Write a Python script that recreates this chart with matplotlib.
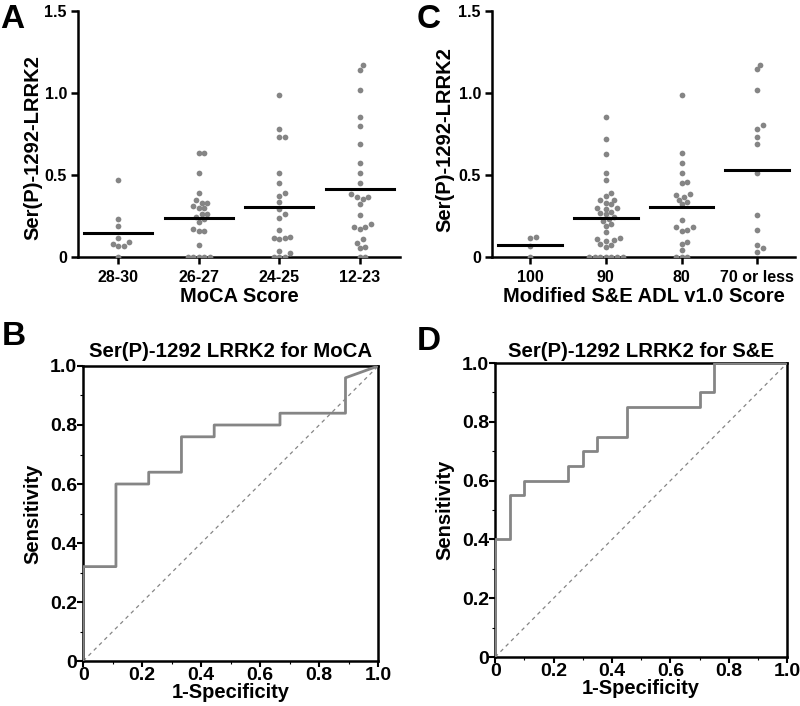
import numpy as np
import matplotlib
matplotlib.use("Agg")
import matplotlib.pyplot as plt
from matplotlib.ticker import MultipleLocator

plt.rcParams['font.family'] = ['Liberation Sans', 'DejaVu Sans']
plt.rcParams['font.weight'] = 'bold'

# panel A: MoCA groups
moca_groups = ['28-30', '26-27', '24-25', '12-23']
moca_vals = [
    [0.47, 0.23, 0.19, 0.115, 0.09, 0.07, 0.07, 0.08, 0.0],
    [0.632, 0.632, 0.51, 0.388, 0.35, 0.327, 0.327, 0.31, 0.297, 0.297, 0.262, 0.262,
     0.242, 0.23, 0.213, 0.169, 0.16, 0.16, 0.075, 0.0, 0.0, 0.0, 0.0, 0.0],
    [0.99, 0.778, 0.73, 0.73, 0.51, 0.453, 0.392, 0.372, 0.335, 0.295, 0.262, 0.238,
     0.165, 0.12, 0.115, 0.115, 0.11, 0.038, 0.026, 0.0, 0.0, 0.0],
    [1.173, 1.14, 1.015, 0.852, 0.80, 0.689, 0.571, 0.51, 0.449, 0.384, 0.364, 0.364,
     0.352, 0.323, 0.256, 0.201, 0.185, 0.185, 0.173, 0.108, 0.083, 0.063, 0.053, 0.0, 0.0],
]
moca_means = [0.148, 0.24, 0.307, 0.412]

# panel C: S&E groups
se_groups = ['100', '90', '80', '70 or less']
se_vals = [
    [0.12, 0.115, 0.065, 0.0],
    [0.855, 0.72, 0.63, 0.51, 0.47, 0.39, 0.37, 0.35, 0.35, 0.33, 0.32, 0.30, 0.30, 0.295,
     0.275, 0.27, 0.26, 0.245, 0.23, 0.22, 0.20, 0.19, 0.15, 0.115, 0.11, 0.105, 0.10,
     0.08, 0.075, 0.06, 0.0, 0.0, 0.0, 0.0, 0.0, 0.0, 0.0],
    [0.99, 0.635, 0.575, 0.515, 0.455, 0.45, 0.385, 0.38, 0.365, 0.35, 0.335, 0.32, 0.225,
     0.185, 0.18, 0.165, 0.16, 0.09, 0.08, 0.04, 0.0, 0.0, 0.0],
    [1.173, 1.144, 1.018, 0.803, 0.778, 0.734, 0.689, 0.514, 0.258, 0.165, 0.073, 0.053, 0.029],
]
se_means = [0.073, 0.236, 0.303, 0.53]

# ROC curves
roc_moca_fpr = [0, 0, 0.111, 0.111, 0.222, 0.222, 0.333, 0.333, 0.444, 0.444, 0.667, 0.667, 0.889, 0.889, 1.0]
roc_moca_tpr = [0, 0.32, 0.32, 0.60, 0.60, 0.64, 0.64, 0.76, 0.76, 0.80, 0.80, 0.84, 0.84, 0.96, 1.0]
roc_se_fpr = [0, 0, 0.05, 0.05, 0.10, 0.10, 0.25, 0.25, 0.30, 0.30, 0.35, 0.35, 0.45, 0.45, 0.70, 0.70, 0.75, 0.75, 1.0]
roc_se_tpr = [0, 0.40, 0.40, 0.55, 0.55, 0.60, 0.60, 0.65, 0.65, 0.70, 0.70, 0.75, 0.75, 0.85, 0.85, 0.90, 0.90, 1.0, 1.0]

gray = '#858585'


def swarm(vals, ypx, xpx, d=5.6):
    # simple beeswarm: offsets in x data units
    order = np.argsort(vals)
    placed = []
    offs = np.zeros(len(vals))
    for i in order:
        y = vals[i] * ypx
        for k in range(0, 40):
            cands = [0.0] if k == 0 else [k * d / 2, -k * d / 2]
            ok = None
            for c in cands:
                if all((c - px) ** 2 + (y - py) ** 2 >= (d * 0.98) ** 2 for px, py in placed):
                    ok = c
                    break
            if ok is not None:
                placed.append((ok, y))
                offs[i] = ok / xpx
                break
    return offs


def scatter_panel(ax, groups, vals, means, xpx, xlabel, lab_xy):
    for i, v in enumerate(vals):
        v = np.array(v)
        off = swarm(v, 164, xpx)
        ax.scatter(i + off, v, s=17, color=gray, zorder=3, linewidths=0)
        ax.plot([i - 0.42, i + 0.42], [means[i], means[i]], color='black', lw=2.2, zorder=4)
    ax.set_xlim(-0.5, 3.5)
    ax.set_ylim(0, 1.5)
    ax.set_xticks(range(4))
    ax.set_xticklabels(groups, fontsize=11.5, fontweight='bold')
    ax.set_yticks([0, 0.5, 1.0, 1.5])
    ax.set_yticklabels(['0', '0.5', '1.0', '1.5'], fontsize=11.5, fontweight='bold')
    ax.spines['top'].set_visible(False)
    ax.spines['right'].set_visible(False)
    for s in ['left', 'bottom']:
        ax.spines[s].set_linewidth(1.8)
    ax.tick_params(axis='x', width=1.8, length=5, pad=4.5)
    ax.tick_params(axis='y', width=1.8, length=5, pad=3)
    ax.set_ylabel('Ser(P)-1292-LRRK2', fontsize=14.5, fontweight='bold')
    ax.yaxis.set_label_coords(*lab_xy)
    ax.set_xlabel(xlabel, fontsize=14.5, fontweight='bold', labelpad=1.5)


def roc_panel(ax, fpr, tpr, title, tpad):
    ax.plot([0, 1], [0, 1], color=gray, lw=0.9, linestyle=(0, (3, 3)))
    ax.plot(fpr, tpr, color=gray, lw=2.0, zorder=3)
    ax.set_xlim(0, 1)
    ax.set_ylim(0, 1)
    ax.set_xticks([0, 0.2, 0.4, 0.6, 0.8, 1.0])
    ax.set_xticklabels(['0', '0.2', '0.4', '0.6', '0.8', '1.0'], fontsize=14, fontweight='bold')
    ax.set_yticks([0, 0.2, 0.4, 0.6, 0.8, 1.0])
    ax.set_yticklabels(['0', '0.2', '0.4', '0.6', '0.8', '1.0'], fontsize=14, fontweight='bold')
    ax.xaxis.set_minor_locator(MultipleLocator(0.1))
    ax.yaxis.set_minor_locator(MultipleLocator(0.1))
    for s in ax.spines.values():
        s.set_linewidth(1.8)
    ax.tick_params(which='major', width=1.5, length=4, pad=0.5)
    ax.tick_params(which='minor', width=0.8, length=2.5)
    ax.set_xlabel('1-Specificity', fontsize=14.5, fontweight='bold', labelpad=-1)
    ax.set_ylabel('Sensitivity', fontsize=14.5, fontweight='bold', labelpad=5)
    ax.set_title(title, fontsize=14.7, fontweight='bold', pad=tpad)


fig = plt.figure(figsize=(8, 7.06), dpi=100)
axA = fig.add_axes([0.0975, 0.636, 0.4025, 0.3485])
axC = fig.add_axes([0.615, 0.636, 0.379, 0.3485])
axB = fig.add_axes([0.104, 0.0637, 0.3688, 0.4179])
axD = fig.add_axes([0.619, 0.0694, 0.365, 0.4164])

scatter_panel(axA, moca_groups, moca_vals, moca_means, 80.5, 'MoCA Score', (-0.112, 0.445))
scatter_panel(axC, se_groups, se_vals, se_means, 75.8, 'Modified S&E ADL v1.0 Score', (-0.125, 0.476))
roc_panel(axB, roc_moca_fpr, roc_moca_tpr, 'Ser(P)-1292 LRRK2 for MoCA', 6.5)
roc_panel(axD, roc_se_fpr, roc_se_tpr, 'Ser(P)-1292 LRRK2 for S&E', 4.5)

for lbl, x, y in [('A', 0.0, 0.960), ('C', 0.521, 0.961), ('B', 0.002, 0.511), ('D', 0.521, 0.504)]:
    fig.text(x, y, lbl, fontsize=24, fontweight='bold', va='baseline', ha='left')

fig.savefig('out.png', dpi=100)
